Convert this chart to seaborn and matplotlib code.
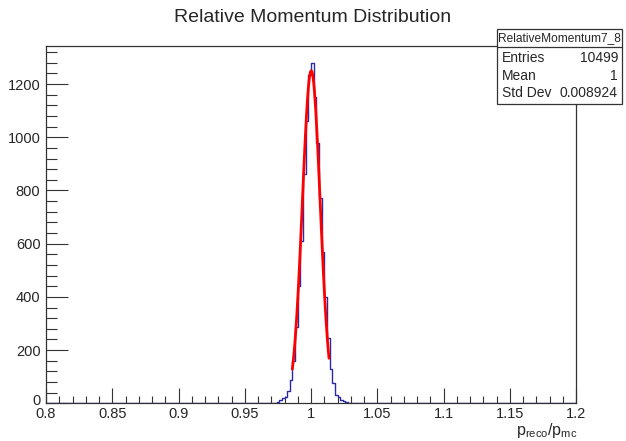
import numpy as np
import pandas as pd
import matplotlib
matplotlib.use("Agg")
import matplotlib.pyplot as plt
import matplotlib.transforms as mtransforms
from matplotlib.patches import Rectangle
from matplotlib.lines import Line2D
from matplotlib.ticker import MultipleLocator
import seaborn as sns

# ---------------- data ----------------
x_min, x_max, n_bins = 0.8, 1.2, 200
# non-empty bins: first bin lower edge and counts (bin width 0.002)
first_bin_low = 0.960
counts = [1, 1, 0, 1, 2, 2, 3, 5, 11, 20, 24, 47, 88, 160, 285, 440, 610, 860, 1060, 1235,
          1280,
          1150, 980, 770, 570, 400, 245, 130, 75, 32, 22, 14, 8, 5, 3, 2, 1, 1, 1]
# gaussian fit parameters: constant, mean, sigma, fit range
fit_const = [1250.0]
fit_mean = [1.0002]
fit_sigma = [0.0067]
fit_range = [0.9859, 1.0136]

title = "Relative Momentum Distribution"
stats_name = "RelativeMomentum7_8"
stats_labels = ["Entries", "Mean", "Std Dev"]
stats_values = ["10499", "1", "0.008924"]
x_ticks = [0.8, 0.85, 0.9, 0.95, 1.0, 1.05, 1.1, 1.15, 1.2]
x_tick_labels = ["0.8", "0.85", "0.9", "0.95", "1", "1.05", "1.1", "1.15", "1.2"]
y_ticks = [0, 200, 400, 600, 800, 1000, 1200]

# ---------------- build table ----------------
bw = (x_max - x_min) / n_bins
edges = np.linspace(x_min, x_max, n_bins + 1)
centers = 0.5 * (edges[:-1] + edges[1:])
weights = np.zeros(n_bins)
start = int(round((first_bin_low - x_min) / bw))
weights[start:start + len(counts)] = counts
df = pd.DataFrame({"x": centers, "w": weights})

fx = np.linspace(fit_range[0], fit_range[1], 100)
fy = fit_const[0] * np.exp(-0.5 * ((fx - fit_mean[0]) / fit_sigma[0]) ** 2)
fit_df = pd.DataFrame({"x": fx, "y": fy})

# ---------------- style ----------------
sns.set_style("white")
plt.rcParams["font.family"] = ["Liberation Sans", "DejaVu Sans"]
plt.rcParams["mathtext.fontset"] = "custom"
plt.rcParams["mathtext.rm"] = "Liberation Sans"
plt.rcParams["mathtext.it"] = "Liberation Sans"

W, H = 626, 441
fig = plt.figure(figsize=(W / 100, H / 100), dpi=100)
fig.patch.set_facecolor("white")
ax = fig.add_axes([46 / W, 1 - 403.3 / H, 530 / W, 357.6 / H])

sns.histplot(data=df, x="x", weights="w", bins=n_bins, binrange=(x_min, x_max),
             element="step", fill=False, color="#2a2aa8", linewidth=1.0, ax=ax)
sns.lineplot(data=fit_df, x="x", y="y", color="#ff0000", linewidth=2.0, ax=ax)

ax.set_xlim(x_min, x_max)
ax.set_ylim(0, 1280 * 1.05)
ax.set_xlabel("")
ax.set_ylabel("")

ax.set_xticks(x_ticks)
ax.set_xticklabels(x_tick_labels)
ax.set_yticks(y_ticks)
ax.xaxis.set_minor_locator(MultipleLocator(0.01))
ax.yaxis.set_minor_locator(MultipleLocator(40))
ax.tick_params(axis="x", which="major", direction="in", length=10.5, width=0.8,
               labelsize=10.5, pad=3, bottom=True, top=False, color="#333333")
ax.tick_params(axis="x", which="minor", direction="in", length=5.3, width=0.8,
               bottom=True, top=False, color="#333333")
ax.tick_params(axis="y", which="major", direction="in", length=16, width=0.8,
               labelsize=10.5, pad=4, left=True, right=False, color="#333333")
ax.tick_params(axis="y", which="minor", direction="in", length=8, width=0.8,
               left=True, right=False, color="#333333")
for s in ax.spines.values():
    s.set_color("#333333")
    s.set_linewidth(0.9)

# nudge the "0" y label upward a little, as in the reference
zero_lab = ax.get_yticklabels()[0]
zero_lab.set_transform(zero_lab.get_transform() +
                       mtransforms.ScaledTranslation(0, 4 / 100, fig.dpi_scale_trans))

# title
fig.text(313 / W, 1 - 18 / H, title, ha="center", va="center", fontsize=14)

# x label
fig.text(577 / W, 1 - 430 / H, r"$\mathrm{p_{reco}/p_{mc}}$", ha="right", va="center",
         fontsize=11.5)

# stats box
bx0, bx1, by0, by1, bsep = 497, 622, 29, 104, 47
fig.patches.append(Rectangle((bx0 / W, 1 - by1 / H), (bx1 - bx0) / W, (by1 - by0) / H,
                             transform=fig.transFigure, facecolor="white",
                             edgecolor="#333333", linewidth=0.9, zorder=5))
fig.lines.append(Line2D([bx0 / W, bx1 / W], [1 - bsep / H, 1 - bsep / H],
                        transform=fig.transFigure, color="#333333", linewidth=0.9, zorder=6))
fig.text((bx0 + bx1) / 2 / W, 1 - 38 / H, stats_name, ha="center", va="center",
         fontsize=8.6, zorder=7)
row_y = [58, 76, 93]
for lab, val, yy in zip(stats_labels, stats_values, row_y):
    fig.text(502 / W, 1 - yy / H, lab, ha="left", va="center", fontsize=10, zorder=7)
    fig.text(618 / W, 1 - yy / H, val, ha="right", va="center", fontsize=10, zorder=7)

fig.savefig("out.png", dpi=100, facecolor="white")
